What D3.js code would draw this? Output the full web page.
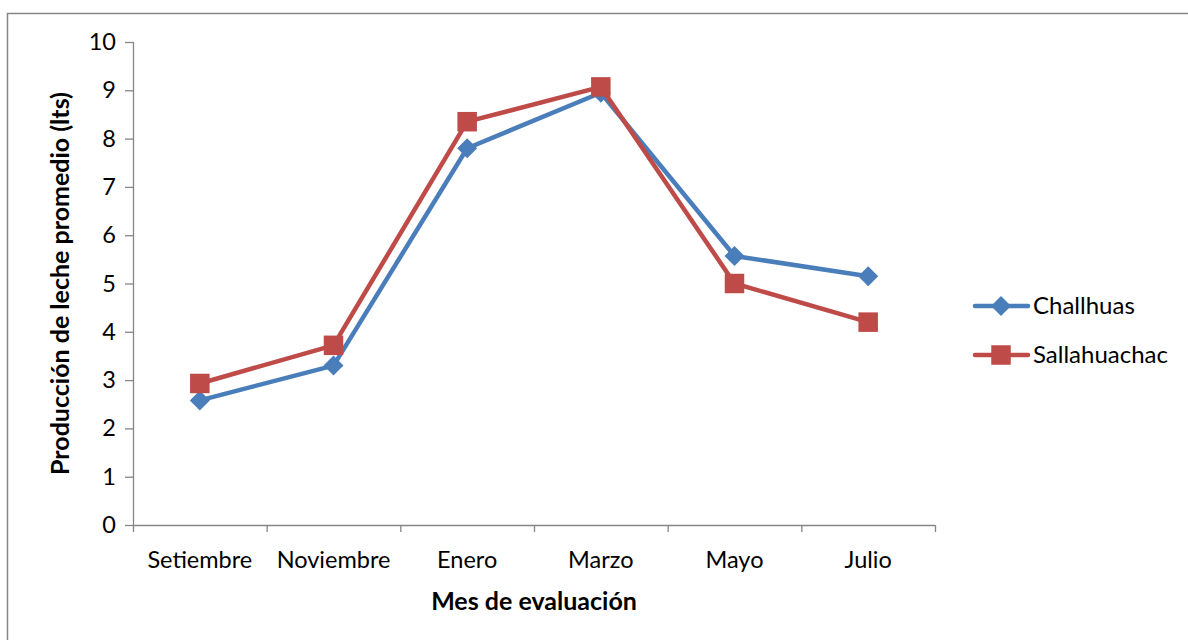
<!DOCTYPE html>
<head>
  <meta charset="utf-8">
  <script src="https://d3js.org/d3.v7.min.js"></script>
<style>
body { margin:0; background:#fff; }
text { font-family: Lato, "Open Sans", sans-serif; fill:#000; }
.axis path, .axis line { stroke:#868686; stroke-width:1.3px; }
.axis text { font-size:23.5px; }
.title { font-size:25px; font-weight:bold; }
.legend text { font-size:24px; }
</style>
</head>
<body>
<script>
// data
var months = ["Setiembre", "Noviembre", "Enero", "Marzo", "Mayo", "Julio"];
var challhuas = [2.58, 3.30, 7.80, 8.95, 5.57, 5.15];
var sallahuachac = [2.93, 3.72, 8.35, 9.07, 5.00, 4.20];
var seriesNames = ["Challhuas", "Sallahuachac"];
var yTicks = [0, 1, 2, 3, 4, 5, 6, 7, 8, 9, 10];

var W = 1188, H = 640;
var margin = {top: 42, left: 133, right: 253, bottom: 115};
var width = W - margin.left - margin.right,
    height = H - margin.top - margin.bottom;

var colors = ["#4A7EBB", "#BE4B48"];

var svg = d3.select("body").append("svg")
    .attr("width", W)
    .attr("height", H);

// outer frame
svg.append("rect")
    .attr("x", 7.5).attr("y", 13.5)
    .attr("width", 1200).attr("height", 700)
    .attr("fill", "none")
    .attr("stroke", "#868686")
    .attr("stroke-width", 1.5);

var g = svg.append("g")
    .attr("transform", "translate(" + margin.left + "," + margin.top + ")");

var x = d3.scaleBand().domain(months).range([0, width]);
var y = d3.scaleLinear().domain([0, 10]).range([height, 0]);

// y axis
g.append("g")
    .attr("class", "axis")
    .call(d3.axisLeft(y).tickValues(yTicks).tickSize(8).tickPadding(9).tickSizeOuter(0))
    .call(s => s.select(".domain").attr("d", "M0.5," + height + "V0"));

// x axis: ticks on category boundaries
var xa = g.append("g")
    .attr("class", "axis")
    .attr("transform", "translate(0," + height + ")");
xa.append("line")
    .attr("x1", 0).attr("x2", width)
    .attr("y1", 0.5).attr("y2", 0.5);
xa.selectAll(".tb")
    .data(d3.range(months.length + 1))
  .enter().append("line")
    .attr("x1", i => i * x.step() + 0.5).attr("x2", i => i * x.step() + 0.5)
    .attr("y1", 0).attr("y2", 7);
xa.selectAll(".lab")
    .data(months)
  .enter().append("text")
    .attr("x", d => x(d) + x.bandwidth() / 2)
    .attr("y", 43)
    .attr("text-anchor", "middle")
    .text(d => d);

// axis titles
svg.append("text")
    .attr("class", "title")
    .attr("x", 534).attr("y", 610)
    .attr("text-anchor", "middle")
    .text("Mes de evaluación");
svg.append("text")
    .attr("class", "title")
    .attr("transform", "translate(69," + (margin.top + height / 2) + ") rotate(-90)")
    .attr("text-anchor", "middle")
    .text("Producción de leche promedio (lts)");

var line = d3.line()
    .x((d, i) => x(months[i]) + x.bandwidth() / 2)
    .y(d => y(d));

var data = [challhuas, sallahuachac];

function marker(sel, k) {
  if (k === 0) {
    var r = 10;
    sel.append("path")
      .attr("d", "M0," + (-r) + "L" + r + ",0L0," + r + "L" + (-r) + ",0Z")
      .attr("fill", colors[k]);
  } else {
    var s = 19.5;
    sel.append("rect")
      .attr("x", -s / 2).attr("y", -s / 2)
      .attr("width", s).attr("height", s)
      .attr("fill", colors[k]);
  }
}

data.forEach((vals, k) => {
  g.append("path")
      .datum(vals)
      .attr("fill", "none")
      .attr("stroke", colors[k])
      .attr("stroke-width", 4.5)
      .attr("stroke-linejoin", "round")
      .attr("d", line);
  vals.forEach((v, i) => {
    var m = g.append("g")
      .attr("transform", "translate(" + (x(months[i]) + x.bandwidth() / 2) + "," + y(v) + ")");
    marker(m, k);
  });
});

// legend
var leg = svg.append("g").attr("class", "legend");
seriesNames.forEach((name, k) => {
  var ly = 306 + k * 49;
  leg.append("line")
    .attr("x1", 975).attr("x2", 1028)
    .attr("y1", ly).attr("y2", ly)
    .attr("stroke", colors[k])
    .attr("stroke-width", 4.5)
    .attr("stroke-linecap", "round");
  var m = leg.append("g").attr("transform", "translate(1001," + ly + ")");
  marker(m, k);
  leg.append("text")
    .attr("x", 1033).attr("y", ly + 8)
    .text(name);
});
</script>
</body>
